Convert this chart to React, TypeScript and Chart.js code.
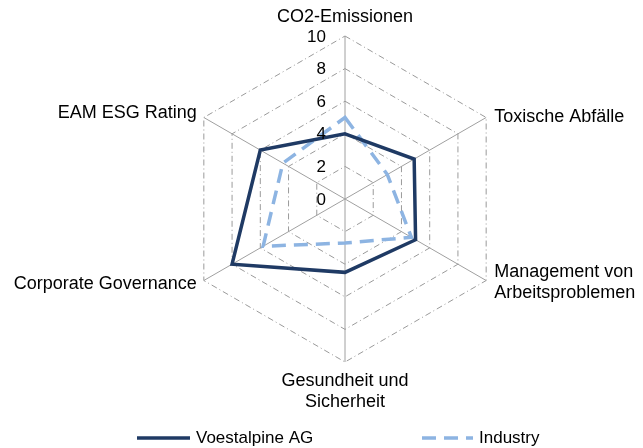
import React, { useEffect, useRef } from "react";
import { Chart, registerables } from "chart.js";

Chart.register(...registerables);

const categories: (string | string[])[] = [
  "CO2-Emissionen",
  "Toxische Abfälle",
  ["Management von", "Arbeitsproblemen"],
  ["Gesundheit und", "Sicherheit"],
  "Corporate Governance",
  "EAM ESG Rating",
];
const voestalpine = [4, 4.9, 5, 4.5, 8, 6];
const industry = [5, 3, 4.7, 2.7, 5.8, 4.4];
const seriesNames = ["Voestalpine AG", "Industry"];
const scaleMin = 0;
const scaleMax = 10;
const tickStep = 2;

const FONT = '"Liberation Sans", Arial, sans-serif';
const NAVY = "#1F3A64";
const LIGHT = "#8DB4E2";

const labelPlugin = {
  id: "customText",
  afterDraw(chart: any) {
    const ctx = chart.ctx as CanvasRenderingContext2D;
    const scale = chart.scales.r;
    const R = scale.drawingArea;
    ctx.save();
    ctx.fillStyle = "#000";
    // tick labels
    ctx.font = `17px ${FONT}`;
    ctx.textAlign = "right";
    ctx.textBaseline = "middle";
    scale.ticks.forEach((t: any) => {
      const d = scale.getDistanceFromCenterForValue(t.value);
      ctx.fillText(String(t.value), scale.xCenter - 19, scale.yCenter - d + 1);
    });
    // point labels
    ctx.font = `18px ${FONT}`;
    const lh = 21;
    const labels = chart.data.labels as (string | string[])[];
    labels.forEach((lab, i) => {
      const lines = Array.isArray(lab) ? lab : [lab];
      const p = scale.getPointPosition(i, R);
      const dx = p.x - scale.xCenter;
      const dy = p.y - scale.yCenter;
      if (Math.abs(dx) < 1) {
        ctx.textAlign = "center";
        if (dy < 0) {
          lines.forEach((l, k) => ctx.fillText(l, p.x, p.y - 19 - (lines.length - 1 - k) * lh));
        } else {
          lines.forEach((l, k) => ctx.fillText(l, p.x, p.y + 19 + k * lh));
        }
      } else {
        ctx.textAlign = dx > 0 ? "left" : "right";
        const x = dx > 0 ? p.x + 8 : p.x - 7;
        const shift = lines.length > 1 ? 2 : dy > 0 ? (dx > 0 ? 0 : 4) : (dx > 0 ? 0 : -4);
        const y0 = p.y + shift - ((lines.length - 1) * lh) / 2;
        lines.forEach((l, k) => ctx.fillText(l, x, y0 + k * lh));
      }
    });
    // legend
    ctx.font = `17px ${FONT}`;
    ctx.textAlign = "left";
    ctx.textBaseline = "middle";
    const ly = 438;
    const items = [
      { x0: 137, x1: 190 },
      { x0: 422, x1: 473 },
    ];
    chart.data.datasets.forEach((ds: any, i: number) => {
      const it = items[i];
      ctx.save();
      ctx.strokeStyle = ds.borderColor;
      ctx.lineWidth = ds.borderWidth;
      ctx.setLineDash(ds.borderDash || []);
      ctx.beginPath();
      ctx.moveTo(it.x0, ly);
      ctx.lineTo(it.x1, ly);
      ctx.stroke();
      ctx.restore();
      ctx.fillText(ds.label, it.x1 + 6, ly);
    });
    ctx.restore();
  },
};

export default function App() {
  const ref = useRef<HTMLCanvasElement>(null);
  useEffect(() => {
    if (!ref.current) return;
    const chart = new Chart(ref.current, {
      type: "radar",
      data: {
        labels: categories as any,
        datasets: [
          {
            label: seriesNames[0],
            data: voestalpine,
            borderColor: NAVY,
            borderWidth: 3.5,
            pointRadius: 0,
            fill: false,
            backgroundColor: "transparent",
          },
          {
            label: seriesNames[1],
            data: industry,
            borderColor: LIGHT,
            borderWidth: 3.5,
            borderDash: [14, 8],
            pointRadius: 0,
            fill: false,
            backgroundColor: "transparent",
          },
        ],
      },
      options: {
        animation: false,
        responsive: true,
        maintainAspectRatio: false,
        layout: { padding: { left: 182, right: 135, top: 36, bottom: 86 } },
        plugins: { legend: { display: false }, tooltip: { enabled: false } },
        elements: { line: { tension: 0 } },
        scales: {
          r: {
            min: scaleMin,
            max: scaleMax,
            ticks: { stepSize: tickStep, display: false },
            pointLabels: { display: false },
            grid: { color: "#9a9a9a", lineWidth: 1 },
            border: { dash: [6, 3, 1, 3] } as any,
            angleLines: { color: "#a0a0a0", lineWidth: 1 },
          },
        },
      },
      plugins: [labelPlugin],
    });
    return () => chart.destroy();
  }, []);
  return (
    <div style={{ position: "fixed", left: 0, top: 0, width: 643, height: 448, background: "#fff" }}>
      <canvas ref={ref} />
    </div>
  );
}
